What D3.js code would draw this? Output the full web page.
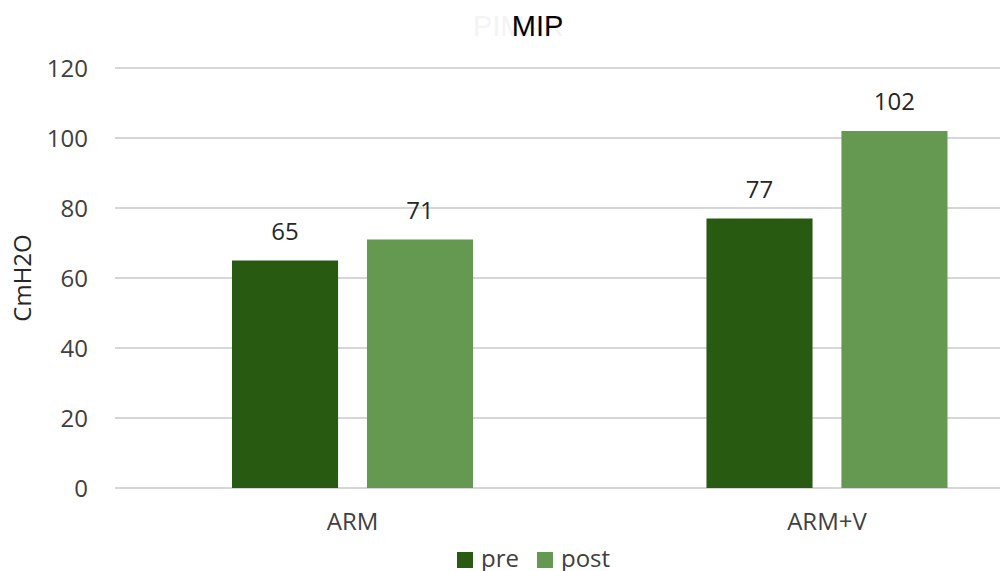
<!DOCTYPE html>
<html><head><meta charset="utf-8">
<script src="https://cdn.jsdelivr.net/npm/d3@7"></script>
<style>body{margin:0;background:#fff}</style>
</head><body>
<svg id="c" width="1000" height="571"></svg>
<script>
const categories = ["ARM", "ARM+V"];
const series = ["pre", "post"];
const preValues = [65, 77];
const postValues = [71, 102];
const yTicks = [0, 20, 40, 60, 80, 100, 120];
const colors = {pre: "#285a12", post: "#659850"};

const svg = d3.select("#c");
const font = "'Open Sans', sans-serif";
const y = d3.scaleLinear().domain([0, 120]).range([488, 68]);
const x0 = d3.scaleBand().domain(categories).range([115, 1064.5]).paddingInner(0.492).paddingOuter(0.2466);
const x1 = d3.scaleBand().domain(series).range([0, x0.bandwidth()]).paddingInner(0.214);

// gridlines
svg.append("g").selectAll("line").data(yTicks).join("line")
  .attr("x1", 115).attr("x2", 1064)
  .attr("y1", d => y(d)).attr("y2", d => y(d))
  .attr("stroke", "#d6d6d6").attr("stroke-width", 2);

// y axis labels
const yAxis = d3.axisLeft(y).tickValues(yTicks).tickSize(0).tickPadding(0);
const ga = svg.append("g").attr("transform", "translate(88,0)").call(yAxis);
ga.select(".domain").remove();
ga.selectAll("text").attr("font-family", font).attr("font-size", 24).attr("fill", "#404040").attr("dy", "0.35em");

// x axis labels
const xAxis = d3.axisBottom(x0).tickSize(0).tickPadding(0);
const gx = svg.append("g").attr("transform", "translate(0,513)").call(xAxis);
gx.select(".domain").remove();
gx.selectAll("text").attr("font-family", font).attr("font-size", 24).attr("fill", "#404040").attr("dy", "0.71em");

const rows = categories.map((c, i) => ({cat: c, vals: [{s: "pre", v: preValues[i]}, {s: "post", v: postValues[i]}]}));
const groups = svg.append("g").selectAll("g").data(rows).join("g")
  .attr("transform", d => `translate(${x0(d.cat)},0)`);
groups.selectAll("rect").data(d => d.vals).join("rect")
  .attr("x", d => x1(d.s)).attr("width", x1.bandwidth())
  .attr("y", d => y(d.v)).attr("height", d => y(0) - y(d.v))
  .attr("fill", d => colors[d.s]);
groups.selectAll("text").data(d => d.vals).join("text")
  .attr("x", d => x1(d.s) + x1.bandwidth() / 2).attr("y", d => y(d.v) - 21)
  .attr("text-anchor", "middle").attr("font-family", font).attr("font-size", 24)
  .attr("fill", "#262626").text(d => d.v);

// axis title
svg.append("text").attr("transform", "translate(31,278) rotate(-90)")
  .attr("text-anchor", "middle").attr("font-family", font).attr("font-size", 24)
  .attr("fill", "#262626").text("CmH2O");

// title (with faint ghost text behind)
svg.append("text").attr("x", 518).attr("y", 36).attr("text-anchor", "middle")
  .attr("font-family", "'Liberation Sans', Arial, sans-serif").attr("font-size", 29)
  .attr("fill", "#f4f4f4").text("PIMAX");
svg.append("text").attr("x", 537.5).attr("y", 36).attr("text-anchor", "middle")
  .attr("font-family", "'Liberation Sans', Arial, sans-serif").attr("font-size", 29)
  .attr("fill", "#000").text("MIP");

// legend
const legend = [{s: "pre", x: 457}, {s: "post", x: 537}];
const lg = svg.append("g").selectAll("g").data(legend).join("g")
  .attr("transform", d => `translate(${d.x},552)`);
lg.append("rect").attr("width", 16).attr("height", 16).attr("fill", d => colors[d.s]);
lg.append("text").attr("x", 24).attr("y", 15).attr("font-family", font).attr("font-size", 24)
  .attr("fill", "#404040").text(d => d.s);
</script>
</body></html>
